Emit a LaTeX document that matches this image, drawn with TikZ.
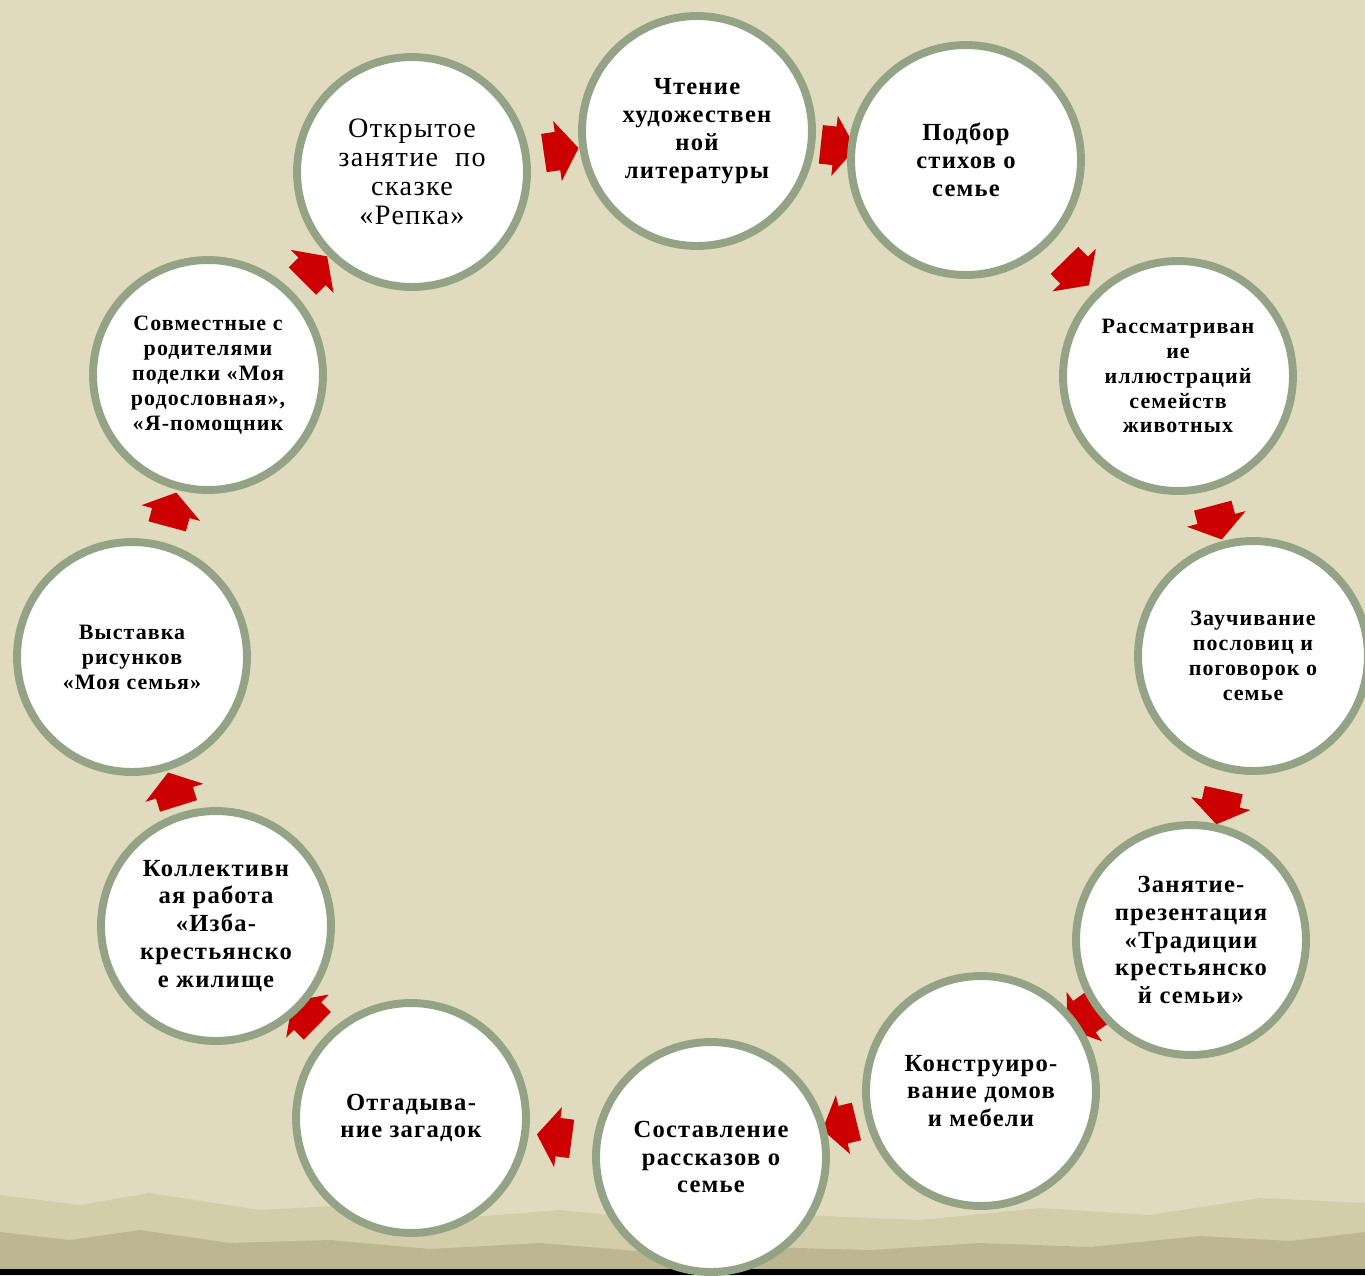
\documentclass[tikz,border=0pt]{standalone}
\usepackage{fontspec}
\setmainfont{Liberation Serif}[LetterSpace=5]
\usepackage{tikz}
\usetikzlibrary{shapes.arrows}
\definecolor{parchment}{RGB}{224,219,190}
\definecolor{parchmid}{RGB}{212,205,170}
\definecolor{parchdark}{RGB}{190,182,145}
\definecolor{ringgreen}{RGB}{148,162,134}
\definecolor{arrowred}{RGB}{204,0,0}
\pgfdeclarelayer{paper}
\pgfdeclarelayer{arrows}
\pgfsetlayers{paper,arrows,main}
\tikzstyle{stage}=[draw=ringgreen,line width=4.5pt,fill=white,circle,minimum size=4.6cm,inner sep=1pt,align=center,font=\bfseries\fontsize{14}{15.9}\selectfont]
\tikzstyle{small}=[font=\bfseries\fontsize{12.5}{14.2}\selectfont]
\tikzstyle{flowarrow}=[single arrow,fill=arrowred,draw=none,inner xsep=0pt,inner ysep=0.38cm,minimum height=0.7cm,single arrow head extend=0.22cm,single arrow tip angle=110,sloped,allow upside down]

\begin{document}
\begin{tikzpicture}[x=0.02cm,y=-0.02cm]
\clip (0,0) rectangle (1365,1275);
\begin{pgfonlayer}{paper}
\fill[parchment] (0,0) rectangle (1365,1275);
\fill[parchmid] (0,1195) -- (80,1205) -- (150,1193) -- (260,1210) -- (350,1205) -- (460,1218) -- (560,1210) -- (680,1222) -- (800,1215) -- (920,1220) -- (1040,1208) -- (1150,1215) -- (1260,1198) -- (1365,1203) -- (1365,1275) -- (0,1275) -- cycle;
\fill[parchdark] (0,1232) -- (70,1240) -- (140,1230) -- (230,1243) -- (330,1240) -- (430,1249) -- (540,1243) -- (650,1252) -- (760,1247) -- (870,1250) -- (980,1243) -- (1090,1247) -- (1200,1236) -- (1290,1241) -- (1365,1232) -- (1365,1275) -- (0,1275) -- cycle;
\fill[black] (0,1269) rectangle (1365,1275);
\end{pgfonlayer}

\node [stage,font=\fontsize{16}{16.6}\selectfont] (open) at (412,172) {Открытое\\занятие\ \ по\\сказке\\«Репка»};
\node [stage] (read) at (697,131) {Чтение\\художествен\\ной\\литературы};
\node [stage] (poems) at (966,160) {Подбор\\стихов о\\семье};
\node [stage,small] (animals) at (1178,376) {Рассматриван\\ие\\иллюстраций\\семейств\\животных};
\node [stage,small] (proverbs) at (1253,656) {Заучивание\\пословиц и\\поговорок о\\семье};
\node [stage] (tradit) at (1191,940) {Занятие-\\презентация\\«Традиции\\крестьянско\\й семьи»};
\node [stage] (build) at (981,1091) {Конструиро-\\вание домов\\и мебели};
\node [stage] (stories) at (711,1157) {Составление\\рассказов о\\семье};
\node [stage] (riddles) at (411,1118) {Отгадыва-\\ние загадок};
\node [stage] (izba) at (216,926) {Коллективн\\ая работа\\«Изба-\\крестьянско\\е жилище};
\node [stage,small] (drawings) at (132,657) {Выставка\\рисунков\\«Моя семья»};
\node [stage,small] (crafts) at (208,375) {Совместные с\\родителями\\поделки «Моя\\родословная»,\\«Я-помощник};

\begin{pgfonlayer}{arrows}
\path (crafts) -- node[flowarrow] {} (open);
\path (open) -- node[flowarrow] {} (read);
\path (read) -- node[flowarrow] {} (poems);
\path (poems) -- node[flowarrow] {} (animals);
\path (animals) -- node[flowarrow] {} (proverbs);
\path (proverbs) -- node[flowarrow,pos=0.55] {} (tradit);
\path (tradit) -- node[flowarrow,pos=0.45] {} (build);
\path (build) -- node[flowarrow] {} (stories);
\path (stories) -- node[flowarrow] {} (riddles);
\path (riddles) -- node[flowarrow,pos=0.65] {} (izba);
\path (izba) -- node[flowarrow,pos=0.4] {} (drawings);
\path (drawings) -- node[flowarrow] {} (crafts);
\end{pgfonlayer}
\end{tikzpicture}
\end{document}
